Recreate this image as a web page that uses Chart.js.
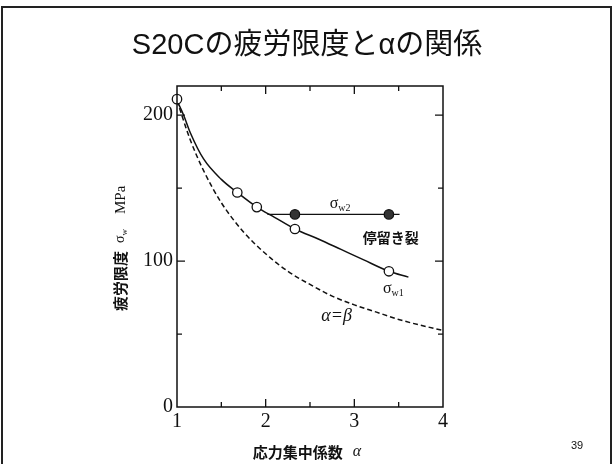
<!DOCTYPE html>
<html>
<head>
<meta charset="utf-8">
<script src="https://cdn.jsdelivr.net/npm/chart.js@4/dist/chart.umd.min.js"></script>
<style>
html,body{margin:0;padding:0;background:#fff;}
canvas{display:block;}
</style>
</head>
<body>
<canvas id="c" width="614" height="464"></canvas>
<script>
// ---- data ----
const chartTitle = "S20Cの疲労限度とαの関係";
const xTickLabels = [1, 2, 3, 4];
const yTickLabels = [0, 100, 200];

// sigma_w1 fitted curve (solid)
const alphaW1 = [1.0, 1.075, 1.15, 1.3, 1.5, 1.68, 1.9, 2.1, 2.33, 2.6, 2.85, 3.1, 3.39, 3.61];
const sigmaW1 = [210, 200, 188, 170, 156, 147, 137, 130, 122, 115, 108, 101, 93, 89];

// alpha = beta curve (dashed)
const alphaAB = [1.0, 1.15, 1.3, 1.5, 1.75, 2.0, 2.25, 2.5, 2.75, 3.0, 3.25, 3.5, 3.75, 4.0];
const sigmaAB = [210, 183, 162, 140, 120, 105, 93, 84, 76, 70, 65, 60, 56, 52.5];

// open circles (sigma_w1 measurements)
const alphaOpen = [1.0, 1.68, 1.9, 2.33, 3.39];
const sigmaOpen = [211, 147, 137, 122, 93];

// filled circles (sigma_w2 measurements)
const alphaFilled = [2.33, 3.39];
const sigmaFilled = [132, 132];

// sigma_w2 horizontal line
const alphaW2Line = [2.02, 3.51];
const sigmaW2Line = [132, 132];

const pts = (xs, ys) => xs.map((x, i) => ({x: x, y: ys[i]}));
const INK = '#111';

function drawSub(ctx, main, sub, x, y, mainFont, subFont, subDy, align) {
  ctx.font = mainFont;
  const wm = ctx.measureText(main).width;
  ctx.font = subFont;
  const ws = ctx.measureText(sub).width;
  const total = wm + ws;
  let x0 = align === 'left' ? x : x - total / 2;
  ctx.textAlign = 'left';
  ctx.textBaseline = 'alphabetic';
  ctx.font = mainFont;
  ctx.fillText(main, x0, y);
  ctx.font = subFont;
  ctx.fillText(sub, x0 + wm, y + subDy);
  return total;
}

const decor = {
  id: 'decor',
  beforeDraw(chart) {
    const ctx = chart.ctx;
    ctx.save();
    ctx.fillStyle = '#fff';
    ctx.fillRect(0, 0, chart.width, chart.height);
    // slide frame
    ctx.strokeStyle = '#222';
    ctx.lineWidth = 2;
    ctx.strokeRect(2, 7, 609, 480);
    ctx.restore();
  },
  afterDraw(chart) {
    const ctx = chart.ctx;
    const a = chart.chartArea;
    const xs = chart.scales.x, ys = chart.scales.y;
    ctx.save();
    // plot frame
    ctx.strokeStyle = INK;
    ctx.lineWidth = 1.5;
    ctx.strokeRect(a.left, a.top, a.right - a.left, a.bottom - a.top);
    // inward ticks
    ctx.lineWidth = 1.3;
    ctx.beginPath();
    xs.ticks.forEach(t => {
      if (t.value <= xs.min || t.value >= xs.max) return;
      const px = xs.getPixelForValue(t.value);
      const len = Number.isInteger(t.value) ? 8 : 5;
      ctx.moveTo(px, a.bottom); ctx.lineTo(px, a.bottom - len);
      ctx.moveTo(px, a.top); ctx.lineTo(px, a.top + len);
    });
    ys.ticks.forEach(t => {
      if (t.value <= ys.min || t.value >= ys.max) return;
      const py = ys.getPixelForValue(t.value);
      const len = (t.value % 100 === 0) ? 8 : 5;
      ctx.moveTo(a.left, py); ctx.lineTo(a.left + len, py);
      ctx.moveTo(a.right, py); ctx.lineTo(a.right - len, py);
    });
    ctx.stroke();

    ctx.fillStyle = INK;
    // main title
    ctx.font = '29px "Liberation Sans", "Noto Sans CJK JP", sans-serif';
    ctx.textAlign = 'center';
    ctx.textBaseline = 'middle';
    ctx.fillText(chartTitle, 307, 46);

    // x axis title
    const jp = 'bold 15px "Noto Sans CJK JP", sans-serif';
    ctx.font = jp;
    const xt = '応力集中係数';
    const wj = ctx.measureText(xt).width;
    ctx.font = 'italic 16px "Liberation Serif", serif';
    const wa = ctx.measureText('α').width;
    const gap = 10;
    let x0 = 307 - (wj + gap + wa) / 2;
    ctx.textAlign = 'left';
    ctx.textBaseline = 'middle';
    ctx.font = jp;
    ctx.fillText(xt, x0, 452);
    ctx.font = 'italic 16px "Liberation Serif", serif';
    ctx.fillText('α', x0 + wj + gap, 452);

    // y axis title (rotated)
    ctx.save();
    ctx.translate(120, 311);
    ctx.rotate(-Math.PI / 2);
    ctx.textAlign = 'left';
    ctx.textBaseline = 'middle';
    ctx.font = jp;
    ctx.fillText('疲労限度', 0, 0);
    const w1 = ctx.measureText('疲労限度').width;
    ctx.textBaseline = 'alphabetic';
    drawSub(ctx, 'σ', 'w', w1 + 8, 4, '14px "Liberation Serif", serif', '9px "Liberation Serif", serif', 3, 'left');
    ctx.font = '15px "Liberation Serif", serif';
    ctx.fillText('MPa', w1 + 37, 5);
    ctx.restore();

    // page number
    ctx.font = '11px "Liberation Sans", sans-serif';
    ctx.textAlign = 'center';
    ctx.textBaseline = 'middle';
    ctx.fillText('39', 577, 446);

    // annotations placed in data coordinates
    const P = (ax, sy) => [xs.getPixelForValue(ax), ys.getPixelForValue(sy)];
    let p = P(2.84, 139);
    drawSub(ctx, 'σ', 'w2', p[0], p[1] + 4, '16px "Liberation Serif", serif', '10px "Liberation Serif", serif', 3, 'center');
    p = P(3.44, 81);
    drawSub(ctx, 'σ', 'w1', p[0], p[1] + 4, '16px "Liberation Serif", serif', '10px "Liberation Serif", serif', 3, 'center');
    p = P(3.41, 116);
    ctx.font = 'bold 14px "Noto Sans CJK JP", sans-serif';
    ctx.textAlign = 'center';
    ctx.textBaseline = 'middle';
    ctx.fillText('停留き裂', p[0], p[1]);
    p = P(2.80, 62);
    ctx.font = 'italic 18px "Liberation Serif", serif';
    ctx.fillText('α=β', p[0], p[1]);
    ctx.restore();
  }
};

new Chart(document.getElementById('c'), {
  type: 'line',
  data: {
    datasets: [
      { data: pts(alphaOpen, sigmaOpen), showLine: false, pointRadius: 4.7,
        pointBackgroundColor: '#fff', pointBorderColor: INK, pointBorderWidth: 1.3, clip: false },
      { data: pts(alphaFilled, sigmaFilled), showLine: false, pointRadius: 4.7,
        pointBackgroundColor: '#333', pointBorderColor: INK, pointBorderWidth: 1.3, clip: false },
      { data: pts(alphaW2Line, sigmaW2Line), borderColor: INK, borderWidth: 1.3, pointRadius: 0, tension: 0 },
      { data: pts(alphaW1, sigmaW1), borderColor: INK, borderWidth: 1.5, pointRadius: 0,
        cubicInterpolationMode: 'monotone', clip: false },
      { data: pts(alphaAB, sigmaAB), borderColor: INK, borderWidth: 1.5, borderDash: [5, 3],
        pointRadius: 0, cubicInterpolationMode: 'monotone' }
    ]
  },
  options: {
    responsive: false,
    animation: false,
    devicePixelRatio: 1,
    layout: { padding: { left: 0, top: 86, right: 171, bottom: 0 } },
    plugins: { legend: { display: false }, tooltip: { enabled: false }, title: { display: false } },
    scales: {
      x: {
        type: 'linear', min: 1, max: 4,
        grid: { display: false, drawTicks: false },
        border: { display: false },
        ticks: {
          stepSize: 0.5, padding: 3, color: INK, maxRotation: 0, autoSkip: false,
          font: { family: '"Liberation Serif", serif', size: 20 },
          callback: v => xTickLabels.includes(v) ? String(v) : ''
        },
        afterFit(s) { s.height = 57; }
      },
      y: {
        type: 'linear', min: 0, max: 220,
        grid: { display: false, drawTicks: false },
        border: { display: false },
        ticks: {
          stepSize: 50, padding: 4, color: INK, autoSkip: false,
          font: { family: '"Liberation Serif", serif', size: 20 },
          callback: v => yTickLabels.includes(v) ? String(v) : ''
        },
        afterFit(s) { s.width = 177; }
      }
    }
  },
  plugins: [decor]
});
</script>
</body>
</html>
